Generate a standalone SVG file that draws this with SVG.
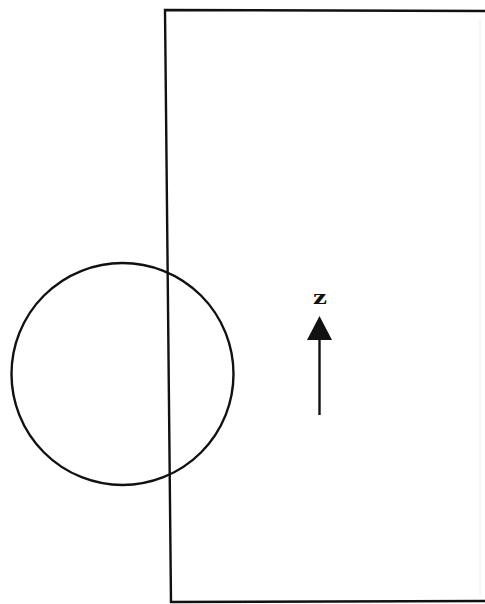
<svg xmlns="http://www.w3.org/2000/svg" width="485" height="604" viewBox="0 0 485 604">
<style>
.ln{fill:none;stroke:#111;stroke-width:2.4;stroke-linecap:square}
.lbl{font-family:"Liberation Serif",serif;font-size:22px;font-weight:bold;fill:#111}
</style>
<rect width="485" height="604" fill="#fff"/>
<g id="frame">
<path class="ln" d="M485,11 L165,10 L171,602 L485,601"/>
<line x1="480" y1="20" x2="480" y2="596" stroke="#ececec" stroke-width="1"/>
</g>
<g id="circle">
<circle class="ln" cx="122.5" cy="374" r="111"/>
</g>
<g id="z-axis">
<line x1="319.5" y1="336" x2="319.5" y2="415" stroke="#111" stroke-width="2.4"/>
<polygon points="319.5,316 307,340 332,340" fill="#111"/>
<text class="lbl" x="313" y="303.5" textLength="14" lengthAdjust="spacingAndGlyphs">z</text>
</g>
</svg>
